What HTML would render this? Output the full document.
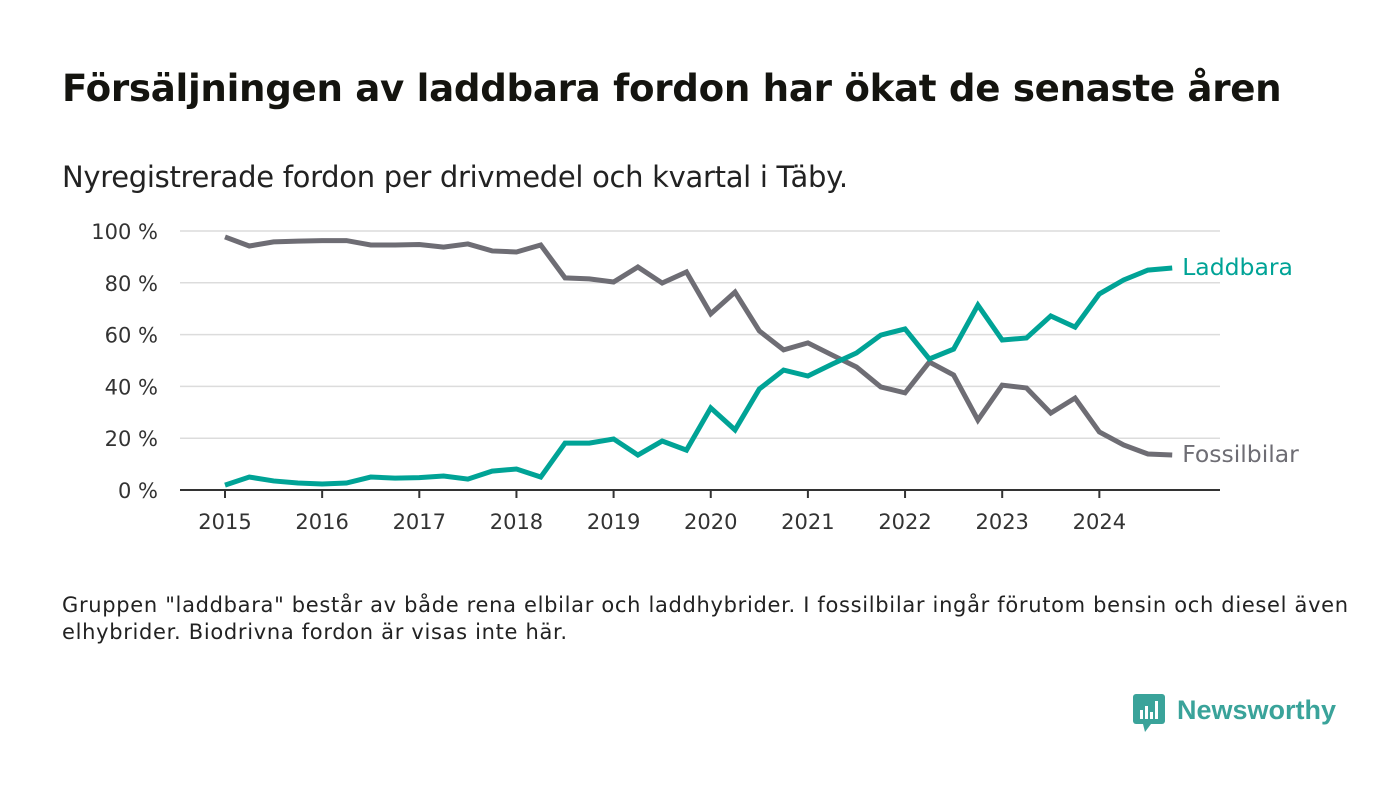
<!DOCTYPE html>
<html><head><meta charset="utf-8"><style>
body{margin:0;background:#fff;width:1400px;height:793px;overflow:hidden;font-family:"DejaVu Sans","Liberation Sans",sans-serif;}
#title{position:absolute;left:62px;top:66px;font-size:37.2px;font-weight:bold;color:#14140f;letter-spacing:-0.3px}
#sub{position:absolute;left:62px;top:160px;font-size:29px;color:#222;letter-spacing:-0.3px}
#note{position:absolute;left:62px;top:592px;width:1310px;font-size:21px;line-height:27px;color:#222;letter-spacing:0.68px}
#logo{position:absolute;left:1133px;top:692px;}
svg text{font-family:"DejaVu Sans","Liberation Sans",sans-serif}
</style></head><body>
<div id="title">Försäljningen av laddbara fordon har ökat de senaste åren</div>
<div id="sub">Nyregistrerade fordon per drivmedel och kvartal i Täby.</div>
<svg id="chart" width="1400" height="560" style="position:absolute;left:0;top:0"></svg>
<div id="note">Gruppen "laddbara" består av både rena elbilar och laddhybrider. I fossilbilar ingår förutom bensin och diesel även<br>elhybrider. Biodrivna fordon är visas inte här.</div>
<div id="logo">
<svg width="210" height="44"><rect x="0" y="2" width="32" height="30" rx="3" fill="#3aa39a"/><polygon points="10,32 18,32 12,40" fill="#3aa39a"/><rect x="7" y="18" width="3" height="9" fill="#fff"/><rect x="12" y="14" width="3" height="13" fill="#fff"/><rect x="17" y="20" width="3" height="7" fill="#fff"/><rect x="22" y="9" width="3" height="18" fill="#fff"/><text x="44" y="27" font-size="27" font-weight="bold" fill="#3aa39a" style="font-family:'Liberation Sans',sans-serif">Newsworthy</text></svg>
</div>
<script>
const years=["2015","2016","2017","2018","2019","2020","2021","2022","2023","2024"];
const yTicks=[0,20,40,60,80,100];
const fossil=[97.7,94.2,95.8,96.1,96.3,96.3,94.6,94.6,94.8,93.8,95.0,92.3,91.9,94.6,81.9,81.5,80.3,86.1,79.9,84.2,68.0,76.4,61.4,54.1,56.8,52.1,47.5,39.8,37.5,49.4,44.4,27.0,40.5,39.4,29.7,35.5,22.4,17.4,13.9,13.5];
const laddbara=[1.9,5.0,3.5,2.7,2.3,2.7,5.0,4.6,4.8,5.4,4.2,7.3,8.1,5.0,18.1,18.1,19.7,13.5,18.9,15.4,31.7,23.2,39.0,46.3,44.0,48.6,52.9,59.8,62.2,50.6,54.4,71.4,57.9,58.7,67.2,62.9,75.7,81.1,84.9,85.7];
const svg=document.getElementById('chart');const NS='http://www.w3.org/2000/svg';
const x=t=>225+t*97.15; const y=v=>490-v*2.59;
function mk(tag,attrs,txt){const e=document.createElementNS(NS,tag);for(const k in attrs)e.setAttribute(k,attrs[k]);if(txt!==undefined)e.textContent=txt;svg.appendChild(e);return e;}
yTicks.forEach(v=>{
 if(v>0){const g=mk('line',{x1:180,x2:1220,y1:y(v),y2:y(v),stroke:'#dcdcdc','stroke-width':1.5});
 
 }
 const t=mk('text',{x:158,y:y(v)+8,'text-anchor':'end','font-size':21,fill:'#333'},v+' %');
 
 
});
const ax=mk('line',{x1:180,x2:1220,y1:490,y2:490,stroke:'#333','stroke-width':2});


years.forEach((yr,i)=>{
 const tk=mk('line',{x1:x(i),x2:x(i),y1:490,y2:498,stroke:'#333','stroke-width':2});
 
 
 const t=mk('text',{x:x(i),y:529,'text-anchor':'middle','font-size':21,fill:'#333'},yr);
 
 
});
function line(data,color,name,label){
 const p=mk('polyline',{points:data.map((v,i)=>x(i/4)+','+y(v)).join(' '),fill:'none',stroke:color,'stroke-width':5,'stroke-linejoin':'miter'});
 
 
 const l=mk('text',{x:x((data.length-1)/4)+10,y:y(data[data.length-1])+7,'font-size':23.5,fill:color},label);
 
 
}
line(fossil,'#6e6d74','fossilbilar-line','Fossilbilar');
line(laddbara,'#00a396','laddbara-line','Laddbara');
</script>
</body></html>
